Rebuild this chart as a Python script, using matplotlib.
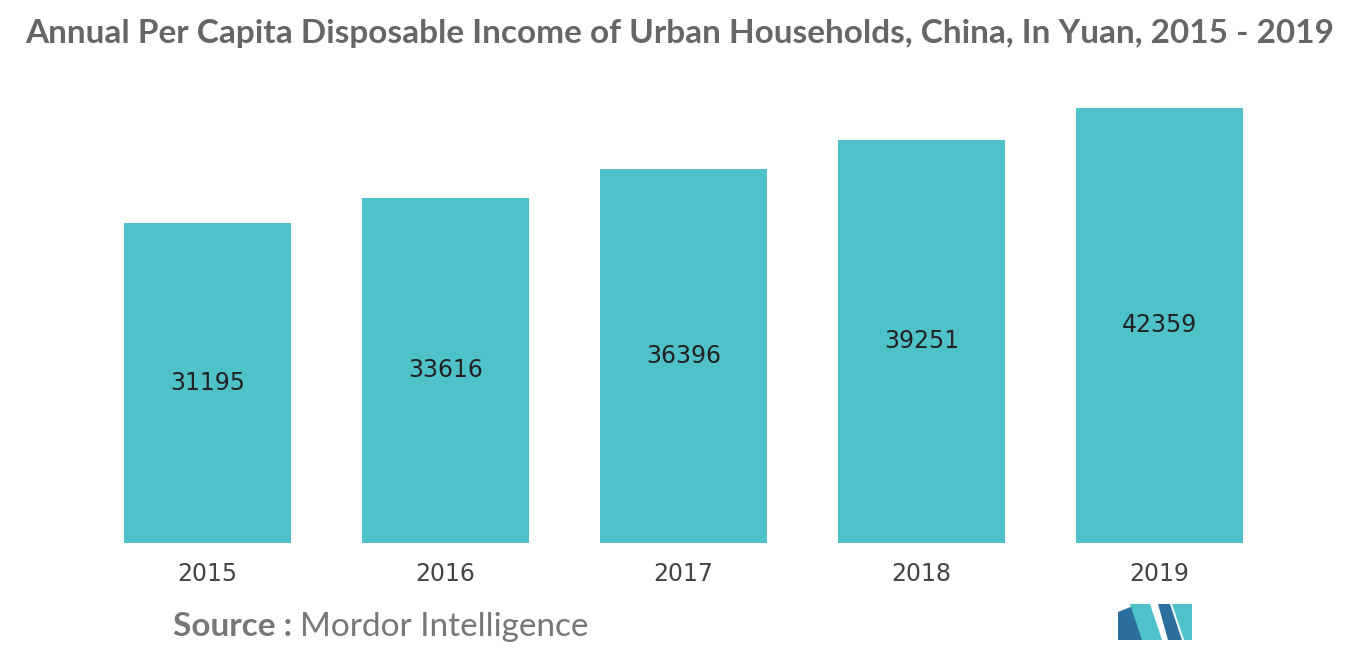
import matplotlib.pyplot as plt
from matplotlib.patches import Polygon

years = ["2015", "2016", "2017", "2018", "2019"]
income = [31195, 33616, 36396, 39251, 42359]

W, H = 1366, 655
fig = plt.figure(figsize=(W / 100, H / 100), dpi=100, facecolor="white")
ax = fig.add_axes([88.5 / W, (H - 543) / H, 1190 / W, 435 / H])

x = range(len(years))
bars = ax.bar(x, income, width=0.70, color="#4fc1c8")
for xi, v in zip(x, income):
    ax.text(xi, v / 2, str(v), ha="center", va="center", fontsize=17,
            color="#222222", family="DejaVu Sans")

ax.set_xlim(-0.5, len(years) - 0.5)
ax.set_ylim(0, max(income))
ax.set_xticks(list(x))
ax.set_xticklabels(years, fontsize=17, color="#444444", family="DejaVu Sans")
ax.tick_params(axis="x", length=0, pad=14)
ax.set_yticks([])
for s in ax.spines.values():
    s.set_visible(False)

fig.text(25 / W, 1 - 33 / H,
         "Annual Per Capita Disposable Income of Urban Households, China, In Yuan, 2015 - 2019",
         fontsize=24, fontweight="bold", color="#666666", family="Lato",
         va="center", ha="left")

t = fig.text(173 / W, 1 - 627 / H, "Source : ", fontsize=24, fontweight="bold",
             color="#777777", family="Lato", va="center", ha="left")
fig.canvas.draw()
bb = t.get_window_extent()
fig.text(bb.x1 / W, 1 - 627 / H, "Mordor Intelligence", fontsize=24,
         color="#777777", family="Lato", va="center", ha="left")

# logo
def poly(pts, c):
    fig.patches.append(Polygon([(px / W, 1 - py / H) for px, py in pts],
                               closed=True, transform=fig.transFigure,
                               facecolor=c, edgecolor="none"))

poly([(1118, 640), (1118, 612), (1138, 604), (1150, 640)], "#2a6f9e")
poly([(1130, 604), (1150, 604), (1162, 640), (1142, 640)], "#4fc1c8")
poly([(1158, 604), (1170, 604), (1182, 640), (1168, 640)], "#2a6f9e")
poly([(1172, 604), (1192, 604), (1192, 640), (1184, 640)], "#4fc1c8")

fig.savefig("out.png", dpi=100, facecolor="white")
